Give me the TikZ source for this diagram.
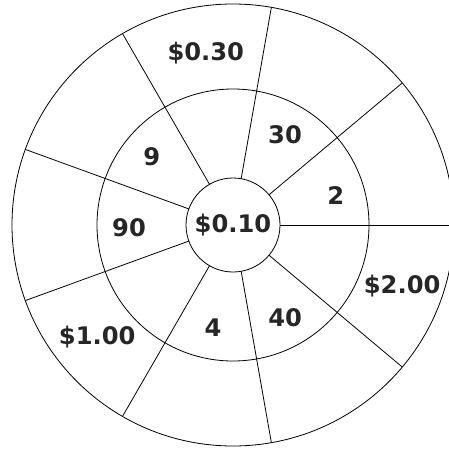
\documentclass[tikz,border=0pt]{standalone}
\usepackage{fontspec}
\setmainfont{DejaVu Sans}
\usetikzlibrary{calc}
\begin{document}
\begin{tikzpicture}[x=1pt,y=1pt,
  ring/.style={circle,draw=black,line width=0.8pt,inner sep=0pt,outer sep=0pt},
  spoke/.style={draw=black,line width=0.8pt},
  lbl/.style={font=\fontsize{24.2}{24}\selectfont\bfseries,text=black!85,inner sep=0pt}]
\useasboundingbox (0,0) rectangle (449,448);
\clip (0,0) rectangle (449,448);
\coordinate (c) at (233,223);
\node[ring,minimum size=442pt] (outer) at (c) {};
\node[ring,minimum size=272pt] (middle) at (c) {};
\node[ring,minimum size=94pt,fill=white] (inner) at (c) {};
\foreach \a in {0,40,80,120,160,200,240,280,320}{
  \draw[spoke] (inner.\a) -- (outer.\a);
}
\node[lbl] (center) at (c) {\$0.10};
\node[lbl] (l030) at ($(c)+(99:174)$) {\$0.30};
\node[lbl] (l30) at ($(c)+(60:104)$) {30};
\node[lbl] (l2) at ($(c)+(16:107)$) {2};
\node[lbl] (l9) at ($(c)+(140:106)$) {9};
\node[lbl] (l90) at ($(c)+(181.5:104)$) {90};
\node[lbl] (l4) at ($(c)+(259:105)$) {4};
\node[lbl] (l40) at ($(c)+(-60.5:106)$) {40};
\node[lbl] (l200) at ($(c)+(-20:180)$) {\$2.00};
\node[lbl] (l100) at ($(c)+(219.5:176)$) {\$1.00};
\end{tikzpicture}
\end{document}
